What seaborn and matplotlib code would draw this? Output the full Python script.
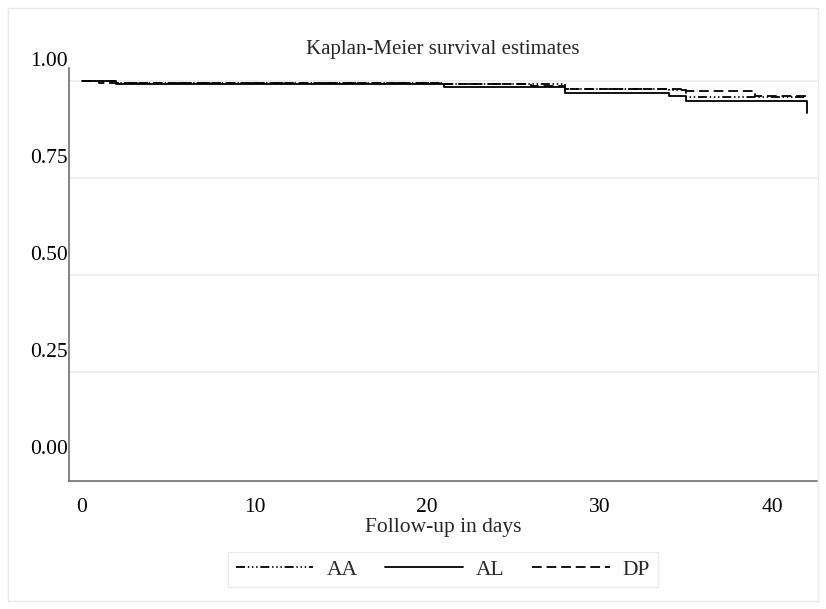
import matplotlib
matplotlib.use('Agg')
import matplotlib.pyplot as plt
from matplotlib.lines import Line2D
from matplotlib.patches import Rectangle
from matplotlib.transforms import ScaledTranslation
import seaborn as sns
import pandas as pd

# Kaplan-Meier step data
groups = ['AA', 'AL', 'DP']
aa_days = [0, 2, 21, 28, 34, 35, 42]
aa_surv = [1.0, 0.995, 0.992, 0.979, 0.977, 0.959, 0.959]
al_days = [0, 2, 21, 28, 34, 35, 42]
al_surv = [1.0, 0.994, 0.984, 0.970, 0.962, 0.948, 0.918]
dp_days = [0, 1, 21, 26, 28, 35, 39, 42]
dp_surv = [1.0, 0.996, 0.993, 0.988, 0.980, 0.975, 0.963, 0.963]

x_ticks = [0, 10, 20, 30, 40]
y_ticks = [0, 0.25, 0.5, 0.75, 1.0]
y_labels = ['0.00', '0.25', '0.50', '0.75', '1.00']

frames = []
for g, d, s in [('AA', aa_days, aa_surv), ('AL', al_days, al_surv), ('DP', dp_days, dp_surv)]:
    frames.append(pd.DataFrame({'days': d, 'surv': s, 'group': g}))
df = pd.concat(frames, ignore_index=True)

sns.set_style('white')
plt.rcParams['font.family'] = ['Liberation Serif', 'DejaVu Serif']
plt.rcParams['lines.scale_dashes'] = False

dash_map = {'AA': (6.5, 2, 1, 2, 1, 2, 1, 2), 'AL': '', 'DP': (7, 3.5)}
ink = {'AA': 'black', 'AL': 'black', 'DP': 'black'}

fig = plt.figure(figsize=(8.26, 6.09), dpi=100)
ax = fig.add_axes([69 / 826, 1 - 481 / 609, (817 - 69) / 826, (481 - 68) / 609])

sns.lineplot(data=df, x='days', y='surv', hue='group', style='group',
             palette=ink, dashes=dash_map, drawstyle='steps-post',
             estimator=None, sort=False, linewidth=1.3, legend=False, ax=ax)

ax.set_xlim(-0.75, 42.6)
ax.set_ylim(-0.031, 1.034)
ax.set_xticks(x_ticks)
ax.set_xticklabels([str(t) for t in x_ticks])
ax.set_yticks(y_ticks)
ax.set_yticklabels(y_labels)

ax.grid(axis='y', color='#e6eef0', linewidth=1.2)
ax.get_ygridlines()[0].set_visible(False)
ax.set_axisbelow(True)

for side in ['top', 'right']:
    ax.spines[side].set_visible(False)
for side in ['left', 'bottom']:
    ax.spines[side].set_color('#707070')
    ax.spines[side].set_linewidth(1.2)

ax.tick_params(axis='both', which='major', direction='out', color='#707070',
               width=1.0, labelsize=15.5, labelcolor='black')
ax.tick_params(axis='y', length=6.5, pad=0)
ax.tick_params(axis='x', length=6, pad=6)

# Stata-like y labels: sitting above their ticks, flush with the axis
shift = ScaledTranslation(0.08, 0.22, fig.dpi_scale_trans)
for lab in ax.get_yticklabels():
    lab.set_transform(lab.get_transform() + shift)

ax.set_xlabel('Follow-up in days', fontsize=15.5, labelpad=1)
ax.set_ylabel('')
ax.set_title('Kaplan-Meier survival estimates', fontsize=15, pad=10)

handles = [Line2D([], [], color='black', lw=1.3, dashes=dash_map['AA']),
           Line2D([], [], color='black', lw=1.3),
           Line2D([], [], color='black', lw=1.3, dashes=dash_map['DP'])]
leg = fig.legend(handles, groups, loc='center', bbox_to_anchor=(443 / 826, 1 - 569.5 / 609),
                 ncol=3, frameon=True, fancybox=False, fontsize=15.5,
                 handlelength=3.6, handletextpad=0.6, columnspacing=1.3,
                 borderpad=0.35, edgecolor='#e3e8ea')
leg.get_frame().set_linewidth(1.0)

fig.add_artist(Rectangle((8 / 826, 8 / 609), 810 / 826, 593 / 609, transform=fig.transFigure,
                         fill=False, edgecolor='#e6eaec', linewidth=1.0))

fig.savefig('out.png', dpi=100, facecolor='white')
